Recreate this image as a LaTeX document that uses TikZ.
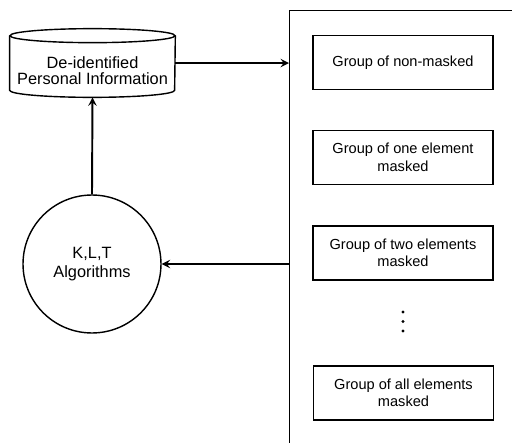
\documentclass[tikz,border=0pt]{standalone}
\usepackage{fontspec}
\setmainfont{Liberation Sans}
\begin{document}
\begin{tikzpicture}[x=0.02cm, y=-0.02cm, >=stealth,
  group/.style={draw, line width=0.7pt, minimum width=3.6cm, minimum height=1.08cm, align=center, font=\fontsize{8.3}{10}\selectfont},
  conn/.style={->, line width=1.1pt}]
  \useasboundingbox (0,0) rectangle (512,443);
  \clip (0,0) rectangle (512,443);
  \node[minimum width=3.3cm, minimum height=1.36cm, align=center, font=\fontsize{9.3}{9.1}\selectfont] (db) at (92.5,63) {\rule{0pt}{16pt}De-identified\\Personal Information};
  \draw[line width=0.8pt] ([yshift=-0.14cm]db.north west) -- ([yshift=0.14cm]db.south west)
    arc[start angle=180, end angle=360, x radius=1.65cm, y radius=0.14cm] -- ([yshift=-0.14cm]db.north east);
  \draw[line width=0.8pt] ([yshift=-0.14cm]db.north) ellipse [x radius=1.65cm, y radius=0.14cm];
  \node[circle, draw, line width=0.8pt, minimum size=2.76cm, align=center, font=\fontsize{9.3}{11}\selectfont] (alg) at (92,264) {K,L,T\\Algorithms};
  \node[draw, line width=0.8pt, minimum width=5.2cm, minimum height=9.2cm, anchor=north west] (masks) at (289,10) {};
  \node[group] (g0) at (403,62.5) {Group of non-masked};
  \node[group] (g1) at (403,157.5) {Group of one element\\masked};
  \node[group] (g2) at (403,253) {Group of two elements\\masked};
  \node[group] (gn) at (403.5,393) {Group of all elements\\masked};
  \foreach \y in {312,321.5,331} \fill (403,\y) circle (1.6);
  \draw[conn] (db.east) -- (masks.west |- db.east);
  \draw[conn] (alg.north) -- (db.south);
  \draw[conn] (masks.west |- alg.east) -- (alg.east);
\end{tikzpicture}
\end{document}
